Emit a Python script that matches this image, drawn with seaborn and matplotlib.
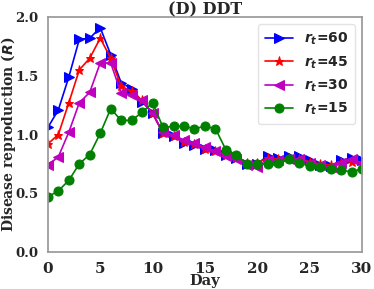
import numpy as np
import pandas as pd
import matplotlib
matplotlib.use("Agg")
import matplotlib.pyplot as plt
import seaborn as sns

days = list(range(31))
r60 = [1.06, 1.21, 1.49, 1.81, 1.82, 1.91, 1.68, 1.44, 1.39, 1.28, 1.18,
       1.01, 0.99, 0.93, 0.91, 0.88, 0.87, 0.83, 0.80, 0.75, 0.75,
       0.82, 0.80, 0.82, 0.82, 0.78, 0.74, 0.73, 0.78, 0.80, 0.78]
r45 = [0.92, 1.00, 1.27, 1.55, 1.65, 1.82, 1.65, 1.41, 1.37, 1.29, 1.18,
       1.01, 0.99, 0.94, 0.92, 0.88, 0.86, 0.83, 0.80, 0.76, 0.76,
       0.80, 0.79, 0.80, 0.79, 0.77, 0.75, 0.74, 0.77, 0.77, 0.76]
r30 = [0.74, 0.81, 1.02, 1.27, 1.36, 1.61, 1.61, 1.35, 1.34, 1.29, 1.18,
       1.02, 1.00, 0.95, 0.93, 0.89, 0.86, 0.82, 0.79, 0.74, 0.72,
       0.78, 0.78, 0.79, 0.79, 0.76, 0.74, 0.72, 0.76, 0.79, 0.76]
r15 = [0.47, 0.52, 0.61, 0.75, 0.83, 1.01, 1.22, 1.12, 1.12, 1.19, 1.27,
       1.06, 1.07, 1.07, 1.05, 1.07, 1.05, 0.87, 0.83, 0.75, 0.75,
       0.75, 0.76, 0.79, 0.76, 0.73, 0.72, 0.71, 0.70, 0.68, 0.71]

labels = [r"$\mathbfit{r_t}$=60", r"$\mathbfit{r_t}$=45",
          r"$\mathbfit{r_t}$=30", r"$\mathbfit{r_t}$=15"]
series = [r60, r45, r30, r15]
colors = ["#0000ff", "#ff0000", "#bf00bf", "#008000"]
markers = [">", "*", "<", "o"]

sns.set_theme(style="white")
plt.rcParams["font.family"] = ["DejaVu Serif"]
plt.rcParams["mathtext.fontset"] = "dejavusans"

fig, ax = plt.subplots(figsize=(3.74, 2.89), dpi=100)

for vals, lab, c, m in zip(series, labels, colors, markers):
    sns.lineplot(x=days, y=vals, ax=ax, color=c, marker=m, markersize=6.5,
                 markeredgecolor=c, linewidth=1.2, label=lab)

ax.set_xlim(0, 30)
ax.set_ylim(0, 2.0)
ax.set_xticks([0, 5, 10, 15, 20, 25, 30])
ax.set_yticks([0.0, 0.5, 1.0, 1.5, 2.0])
ax.set_yticklabels(["0.0", "0.5", "1.0", "1.5", "2.0"])
ax.tick_params(labelsize=11, pad=1)
ax.tick_params(axis="y", labelsize=9.5, pad=1)
for t in ax.get_xticklabels() + ax.get_yticklabels():
    t.set_fontweight("bold")
ax.set_xlabel("Day", fontsize=10.5, fontweight="bold", labelpad=-1)
ax.set_ylabel(r"Disease reproduction ($\mathbfit{R}$)", fontsize=10,
              fontweight="bold")
ax.yaxis.set_label_coords(-0.096, 0.5)
ax.set_title("(D) DDT", fontsize=11.5, fontweight="bold", pad=2)
for s in ax.spines.values():
    s.set_color("#999999")

ax.legend(loc="upper right", prop={"family": "DejaVu Sans", "weight": "bold", "size": 10},
          handlelength=2.0, labelspacing=0.5, borderpad=0.5, handletextpad=0.8,
          edgecolor="#dddddd")

fig.subplots_adjust(left=0.128, right=0.968, top=0.941, bottom=0.128)
fig.savefig("out.png", dpi=100)
